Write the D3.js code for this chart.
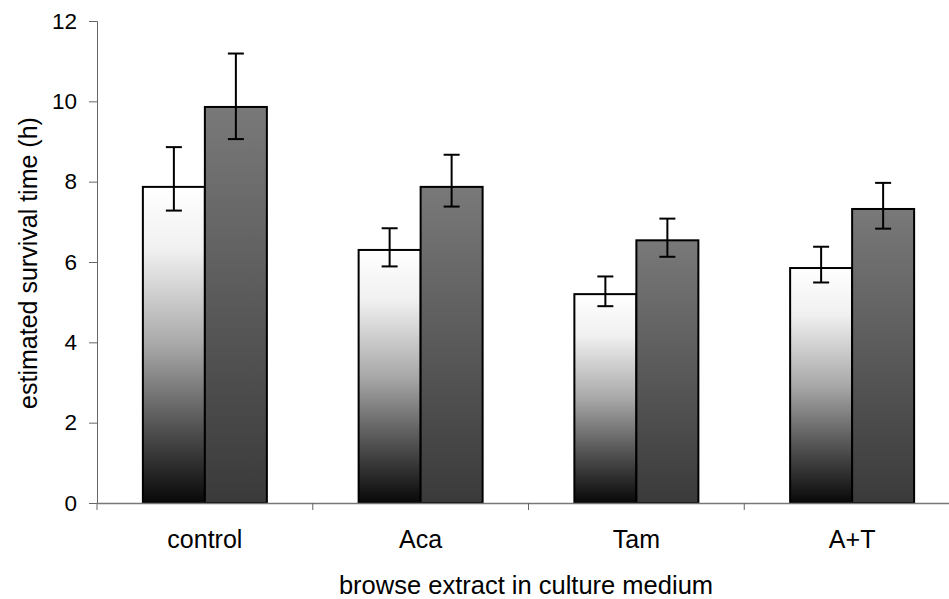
<!DOCTYPE html>
<html><head><meta charset="utf-8">
<script src="https://cdn.jsdelivr.net/npm/d3@7/dist/d3.min.js"></script>
<style>body{margin:0;background:#fff;} text{font-family:"Liberation Sans",Arial,sans-serif;}</style>
</head><body>
<svg id="c" width="949" height="599"></svg>
<script>
const categories = ["control", "Aca", "Tam", "A+T"];
const series1 = [7.87, 6.30, 5.20, 5.85];
const series1Hi = [8.86, 6.84, 5.64, 6.38];
const series1Lo = [7.28, 5.89, 4.90, 5.49];
const series2 = [9.86, 7.87, 6.54, 7.32];
const series2Hi = [11.19, 8.67, 7.08, 7.97];
const series2Lo = [9.06, 7.38, 6.13, 6.83];
const yTicks = [0, 2, 4, 6, 8, 10, 12];

const svg = d3.select("#c");
const x = d3.scaleBand().domain(categories).range([97, 960]).paddingInner(0).paddingOuter(0);
const y = d3.scaleLinear().domain([0, 12]).range([503, 21]);

const defs = svg.append("defs");
const g1 = defs.append("linearGradient").attr("id","g1").attr("x1",0).attr("y1",0).attr("x2",0).attr("y2",1);
[[0,"#ffffff"],[0.2,"#f0f0f0"],[0.5,"#a8a8a8"],[0.75,"#565656"],[1,"#080808"]].forEach(s=>g1.append("stop").attr("offset",s[0]).attr("stop-color",s[1]));
const g2 = defs.append("linearGradient").attr("id","g2").attr("x1",0).attr("y1",0).attr("x2",0).attr("y2",1);
[[0,"#797979"],[1,"#3a3a3a"]].forEach(s=>g2.append("stop").attr("offset",s[0]).attr("stop-color",s[1]));

const bw = 62;
const series = [
  {vals: series1, hi: series1Hi, lo: series1Lo, fill: "url(#g1)", off: -bw},
  {vals: series2, hi: series2Hi, lo: series2Lo, fill: "url(#g2)", off: 0}
];

// y axis
const yAxis = svg.append("g").attr("transform","translate(97,0)")
  .call(d3.axisLeft(y).tickValues(yTicks).tickSize(8).tickPadding(12).tickFormat(d3.format("d")));
yAxis.select(".domain").attr("stroke","#666").attr("stroke-width",1);
yAxis.selectAll(".tick line").attr("stroke","#666");
yAxis.selectAll("text").attr("font-size",22.5).attr("fill","#000")
  .style("font-family","'Liberation Sans',Arial,sans-serif");

series.forEach(s => {
  categories.forEach((c,i) => {
    const cx = x(c) + x.bandwidth()/2 + s.off;
    svg.append("rect").attr("x", cx).attr("y", y(s.vals[i])).attr("width", bw)
      .attr("height", y(0) - y(s.vals[i])).attr("fill", s.fill)
      .attr("stroke","#000").attr("stroke-width",2);
  });
});

const xAxis = svg.append("g").attr("transform","translate(0,503)")
  .call(d3.axisBottom(x).tickSize(0).tickPadding(27));
xAxis.select(".domain").attr("stroke","#777").attr("stroke-width",1.5);
xAxis.selectAll("text").attr("font-size",25).attr("fill","#000")
  .style("font-family","'Liberation Sans',Arial,sans-serif");
// category boundary ticks
const bounds = categories.map(c => x(c));
svg.append("g").selectAll("line").data(bounds).join("line")
  .attr("x1", d=>d).attr("x2", d=>d).attr("y1", 503).attr("y2", 510)
  .attr("stroke","#666").attr("stroke-width",1);

// error bars
series.forEach(s => {
  categories.forEach((c,i) => {
    const cx = x(c) + x.bandwidth()/2 + s.off + bw/2;
    const g = svg.append("g").attr("stroke","#000").attr("stroke-width",2);
    g.append("line").attr("x1",cx).attr("x2",cx).attr("y1",y(s.hi[i])).attr("y2",y(s.lo[i]));
    g.append("line").attr("x1",cx-8).attr("x2",cx+8).attr("y1",y(s.hi[i])).attr("y2",y(s.hi[i]));
    g.append("line").attr("x1",cx-8).attr("x2",cx+8).attr("y1",y(s.lo[i])).attr("y2",y(s.lo[i]));
  });
});

svg.append("text").attr("x", 526).attr("y", 594).attr("text-anchor","middle")
  .attr("font-size",25.5).text("browse extract in culture medium");
svg.append("text").attr("transform","translate(37,263) rotate(-90)").attr("text-anchor","middle")
  .attr("font-size",25).text("estimated survival time (h)");
</script>
</body></html>
